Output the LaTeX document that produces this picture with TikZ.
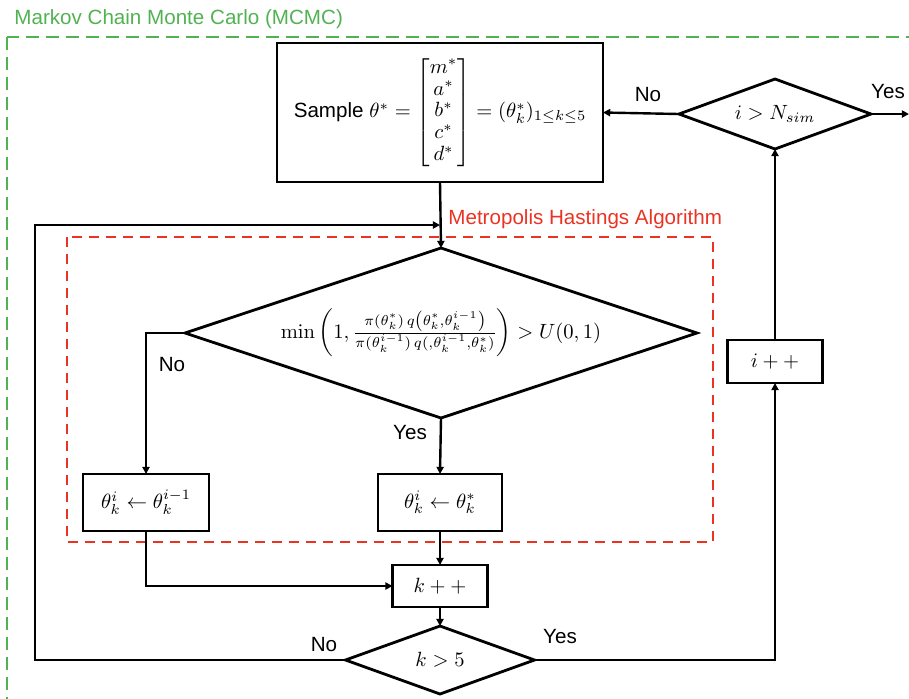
\documentclass[tikz,border=0pt]{standalone}
\usepackage{fix-cm}
\usepackage{amsmath}
\usepackage[no-math]{fontspec}
\setmainfont{Liberation Sans}
\usetikzlibrary{shapes.geometric,arrows.meta}

\definecolor{mcgreen}{RGB}{82,178,82}
\definecolor{mhred}{RGB}{234,51,35}

\tikzset{
  base/.style={font=\fontsize{10.3}{12.4}\selectfont},
  procbox/.style={base,draw,line width=1.4pt,inner sep=0pt,outer sep=0pt},
  decision/.style={base,draw,diamond,line width=1.4pt,inner sep=0pt,outer sep=0pt},
  flow/.style={line width=1.2pt,-{Triangle[length=3.6pt,width=3.6pt]}},
  lbl/.style={base,inner sep=0pt},
}

\begin{document}
\begin{tikzpicture}[x=0.5pt,y=-0.5pt]
\useasboundingbox (0,0) rectangle (909,698);
\clip (0,0) rectangle (909,698);

% outer MCMC frame and its title
\draw[mcgreen,line width=1.3pt,dash pattern=on 6.5pt off 3.5pt] (7,37) rectangle (940,730);
\node[lbl,anchor=west,text=mcgreen] (mctitle) at (14,19) {Markov Chain Monte Carlo (MCMC)};

% inner Metropolis-Hastings frame and its title
\draw[mhred,line width=1.3pt,dash pattern=on 5pt off 3.5pt] (67,237) rectangle (713,542);
\node[lbl,anchor=west,text=mhred] (mhtitle) at (448,219) {Metropolis Hastings Algorithm};

% proposal step
\node[procbox,minimum width=163pt,minimum height=69.5pt] (sample) at (440,112.5)
  {Sample $\theta^* = \renewcommand{\arraystretch}{0.88}\begin{bmatrix} m^*\\ a^*\\ b^*\\ c^*\\ d^*\end{bmatrix} = (\theta^*_k)_{1\le k\le 5}$};

% acceptance test
\node[decision,aspect=3,minimum width=256pt,minimum height=85pt] (accept) at (441,333)
  {$\min\left(1,\frac{\pi(\theta^*_k)\,q\left(\theta^*_k,\theta^{i-1}_k\right)}{\pi(\theta^{i-1}_k)\,q(,\theta^{i-1}_k,\theta^*_k)}\right) > U(0,1)$};

% update steps
\node[procbox,minimum width=63pt,minimum height=28.5pt] (reject) at (146,502.5)
  {$\theta^i_k \leftarrow \theta^{i-1}_k$};
\node[procbox,minimum width=62pt,minimum height=28.5pt] (keep) at (440,502.5)
  {$\theta^i_k \leftarrow \theta^*_k$};

% component counter and test
\node[procbox,minimum width=47.5pt,minimum height=21pt] (kinc) at (440,586) {$k++$};
\node[decision,aspect=2.8,minimum width=94.5pt,minimum height=34pt] (kdone) at (440,660) {$k>5$};

% iteration counter and test
\node[procbox,minimum width=47.5pt,minimum height=21.5pt] (iinc) at (775,361.5) {$i++$};
\node[decision,aspect=2.75,minimum width=96pt,minimum height=35pt] (idone) at (775,114) {$i>N_{sim}$};

% helper points
\coordinate (join) at (440,225);
\coordinate (loopleft) at (35,660);
\coordinate (exit) at (909,114);

% connectors
\draw[flow] (sample.south) -- (accept.north);
\draw[flow] (accept.west) -| (reject.north);
\draw[flow] (accept.south) -- (keep.north);
\draw[flow] (keep.south) -- (kinc.north);
\draw[flow] (reject.south) |- (kinc.west);
\draw[flow] (kinc.south) -- (kdone.north);
\draw[flow] (kdone.west) -- (loopleft) |- (join);
\draw[flow] (kdone.east) -| (iinc.south);
\draw[flow] (iinc.north) -- (idone.south);
\draw[flow] (idone.west) -- (sample.east);
\draw[flow] (idone.east) -- (exit);

% branch labels
\node[lbl] (noA) at (172,365) {No};
\node[lbl] (yesA) at (410,432) {Yes};
\node[lbl] (noI) at (648,95) {No};
\node[lbl] (yesI) at (888,92) {Yes};
\node[lbl] (noK) at (324,644) {No};
\node[lbl] (yesK) at (560,636) {Yes};
\end{tikzpicture}
\end{document}
